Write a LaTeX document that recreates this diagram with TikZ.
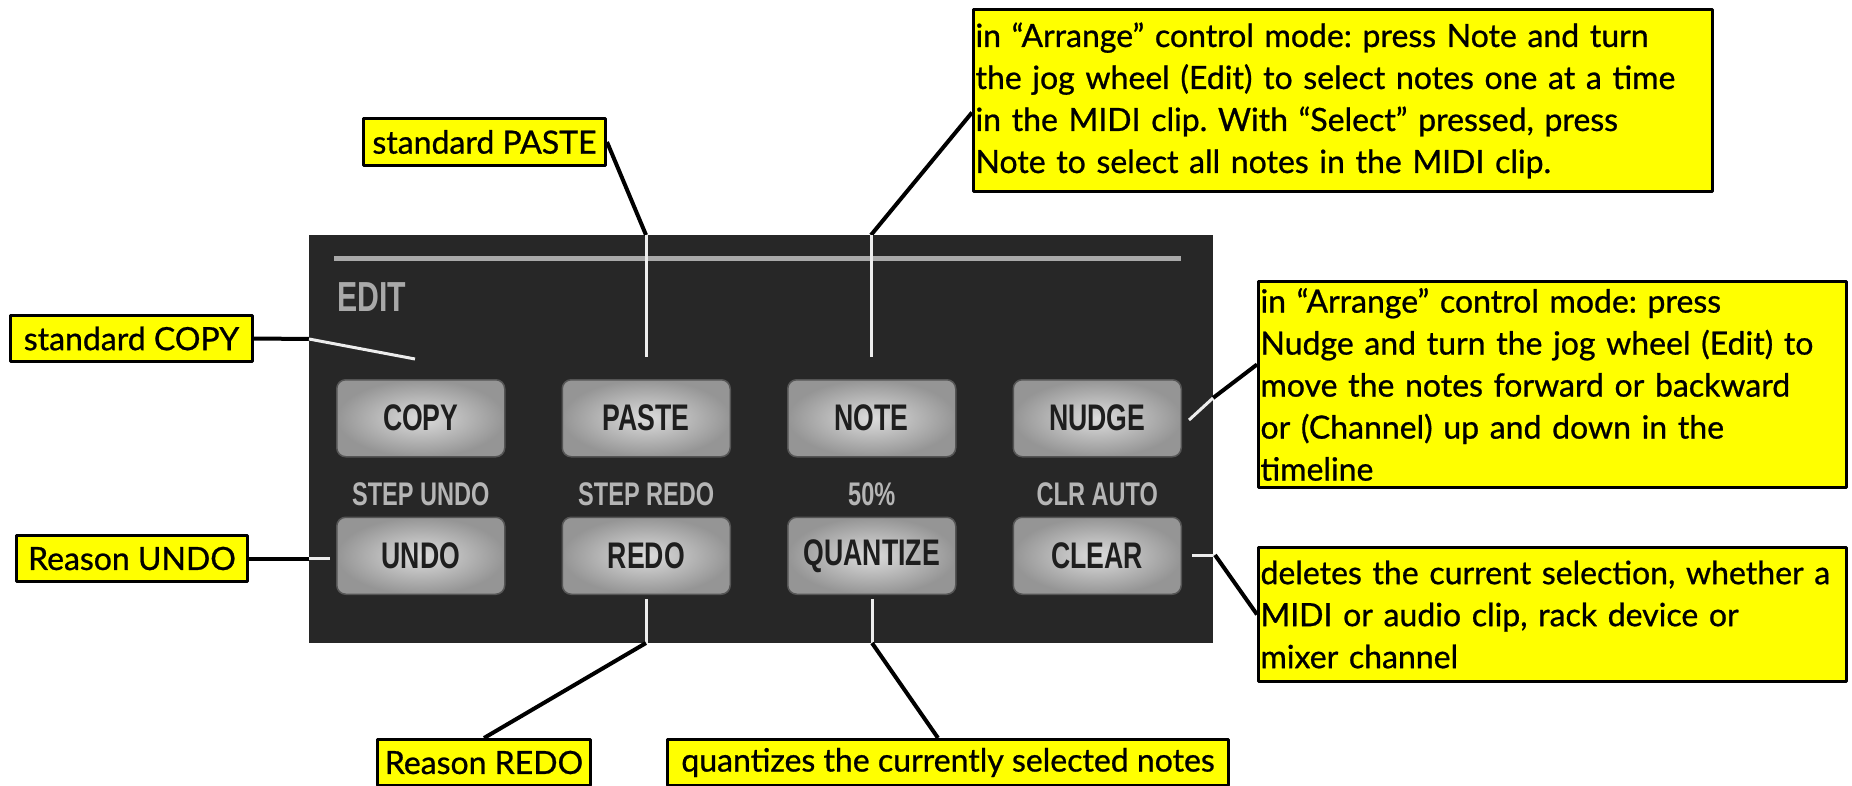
\documentclass[tikz,border=0pt]{standalone}
\usepackage{fontspec}
\usetikzlibrary{calc,positioning}
\newfontfamily\notefont[FakeBold=0.8]{Lato}
\newfontfamily\panelfont[FakeStretch=0.72]{Liberation Sans}
\definecolor{noteyellow}{HTML}{FFFF00}
\definecolor{panelbg}{HTML}{272727}
\definecolor{panelgrey}{HTML}{A9A9A9}
\definecolor{labelgrey}{HTML}{B5B5B5}
\definecolor{keylight}{HTML}{DCDCDC}
\definecolor{keydark}{HTML}{959595}
\definecolor{keyedge}{HTML}{555555}
\definecolor{keytext}{HTML}{1E1E1E}
\definecolor{leadwhite}{HTML}{EDEDED}
\frenchspacing

\begin{document}
\begin{tikzpicture}[
  x=1pt, y=-1pt,
  line cap=butt,
  line join=round,
  note/.style={draw, line width=3pt, fill=noteyellow, inner xsep=2pt, inner ysep=0pt, anchor=north west, align=left, font=\notefont\fontsize{32}{42}\selectfont},
  panel/.style={fill=panelbg, inner sep=0pt, anchor=north west, minimum width=904pt, minimum height=408pt},
  btn/.style={rounded corners=9pt, inner color=keylight, outer color=keydark, draw=keyedge, line width=1.5pt, minimum width=168pt, minimum height=77pt, inner sep=0pt, text=keytext, font=\panelfont\bfseries\fontsize{37}{40}\selectfont},
  steplabel/.style={inner sep=0pt, text=labelgrey, font=\panelfont\bfseries\fontsize{32.7}{34}\selectfont},
  leader/.style={line width=4pt, draw=black},
  inpanel/.style={line width=3pt, draw=leadwhite}
]
  \useasboundingbox (0,0) rectangle (1852,786);

  % the EDIT section of the panel
  \node[panel] (panel) at (309,235) {};
  \draw[line width=5pt, draw=panelgrey] (334,259) -- (1181,259);
  \node[inner sep=0pt, anchor=north west, text=panelgrey, font=\panelfont\bfseries\fontsize{42}{44}\selectfont] (editLabel) at (337,282) {EDIT};

  \node[btn, anchor=north west] (copyBtn) at (336,379) {COPY};
  \node[btn, right=56pt of copyBtn] (pasteBtn) {PASTE};
  \node[btn, right=56pt of pasteBtn] (noteBtn) {NOTE};
  \node[btn, right=56pt of noteBtn] (nudgeBtn) {NUDGE};

  \node[btn, below=59pt of copyBtn] (undoBtn) {UNDO};
  \node[btn, below=59pt of pasteBtn] (redoBtn) {REDO};
  \node[btn, below=59pt of noteBtn] (quantBtn) {QUANTIZE};
  \node[btn, below=59pt of nudgeBtn] (clearBtn) {CLEAR};

  \node[steplabel, above=10pt of undoBtn] (undoAlt) {STEP UNDO};
  \node[steplabel, above=10pt of redoBtn] (redoAlt) {STEP REDO};
  \node[steplabel, above=10pt of quantBtn] (quantAlt) {50\%};
  \node[steplabel, above=10pt of clearBtn] (clearAlt) {CLR AUTO};

  % callouts
  \node[note, minimum width=242pt, minimum height=46pt] (copyNote) at (9,314) {standard COPY};
  \node[note, minimum width=242pt, minimum height=47pt] (pasteNote) at (362,117) {standard PASTE};
  \node[note, text width=735pt, minimum height=182pt] (noteNote) at (972,8)
    {in “Arrange” control mode: press Note and turn\\the jog wheel (Edit) to select notes one at a time\\in the MIDI clip. With “Select” pressed, press\\Note to select all notes in the MIDI clip.};
  \node[note, text width=584pt, minimum height=206pt] (nudgeNote) at (1257,280)
    {in “Arrange” control mode: press\\Nudge and turn the jog wheel (Edit) to\\move the notes forward or backward\\or (Channel) up and down in the\\timeline};
  \node[note, minimum width=231pt, minimum height=46pt] (undoNote) at (15,534) {Reason UNDO};
  \node[note, text width=584pt, minimum height=134pt] (clearNote) at (1257,546)
    {deletes the current selection, whether a\\MIDI or audio clip, rack device or\\mixer channel};
  \node[note, minimum width=213pt, minimum height=46pt] (redoNote) at (376,738) {Reason REDO};
  \node[note, minimum width=561pt, minimum height=46pt] (quantNote) at (666,738) {quantizes the currently selected notes};

  % black outside the panel, white inside it
  \coordinate (copyEdge) at (309,339);
  \coordinate (copyTip) at (415,359);
  \draw[leader] (copyNote.east) -- (copyEdge);
  \draw[inpanel] (copyEdge) -- (copyTip);

  \coordinate (pasteEdge) at (646,235);
  \coordinate (pasteTip) at (646,357);
  \draw[leader] (pasteNote.east) -- (pasteEdge);
  \draw[inpanel] (pasteEdge) -- (pasteTip);

  \coordinate (noteEdge) at (871,235);
  \coordinate (noteTip) at (871,357);
  \draw[leader] ($(noteNote.west)+(0,12)$) -- (noteEdge);
  \draw[inpanel] (noteEdge) -- (noteTip);

  \coordinate (nudgeEdge) at (1213,398);
  \coordinate (nudgeTip) at (1189,420);
  \draw[leader] ($(nudgeNote.west)+(0,-20)$) -- (nudgeEdge);
  \draw[inpanel] (nudgeEdge) -- (nudgeTip);

  \coordinate (undoEdge) at (undoNote.east -| panel.west);
  \coordinate (undoTip) at ($(undoEdge)+(21,0)$);
  \draw[leader] (undoNote.east) -- (undoEdge);
  \draw[inpanel] (undoEdge) -- (undoTip);

  \coordinate (redoTip) at (646,599);
  \coordinate (redoEdge) at (646,643);
  \draw[inpanel] (redoTip) -- (redoEdge);
  \draw[leader] (redoEdge) -- (redoNote.north);

  \coordinate (quantTip) at (872,599);
  \coordinate (quantEdge) at (872,643);
  \draw[inpanel] (quantTip) -- (quantEdge);
  \draw[leader] (quantEdge) -- ($(quantNote.north)+(-10,0)$);

  \coordinate (clearTip) at (1192,555);
  \coordinate (clearEdge) at (1215,555);
  \draw[inpanel] (clearTip) -- (clearEdge);
  \draw[leader] (clearEdge) -- (clearNote.west);
\end{tikzpicture}
\end{document}
